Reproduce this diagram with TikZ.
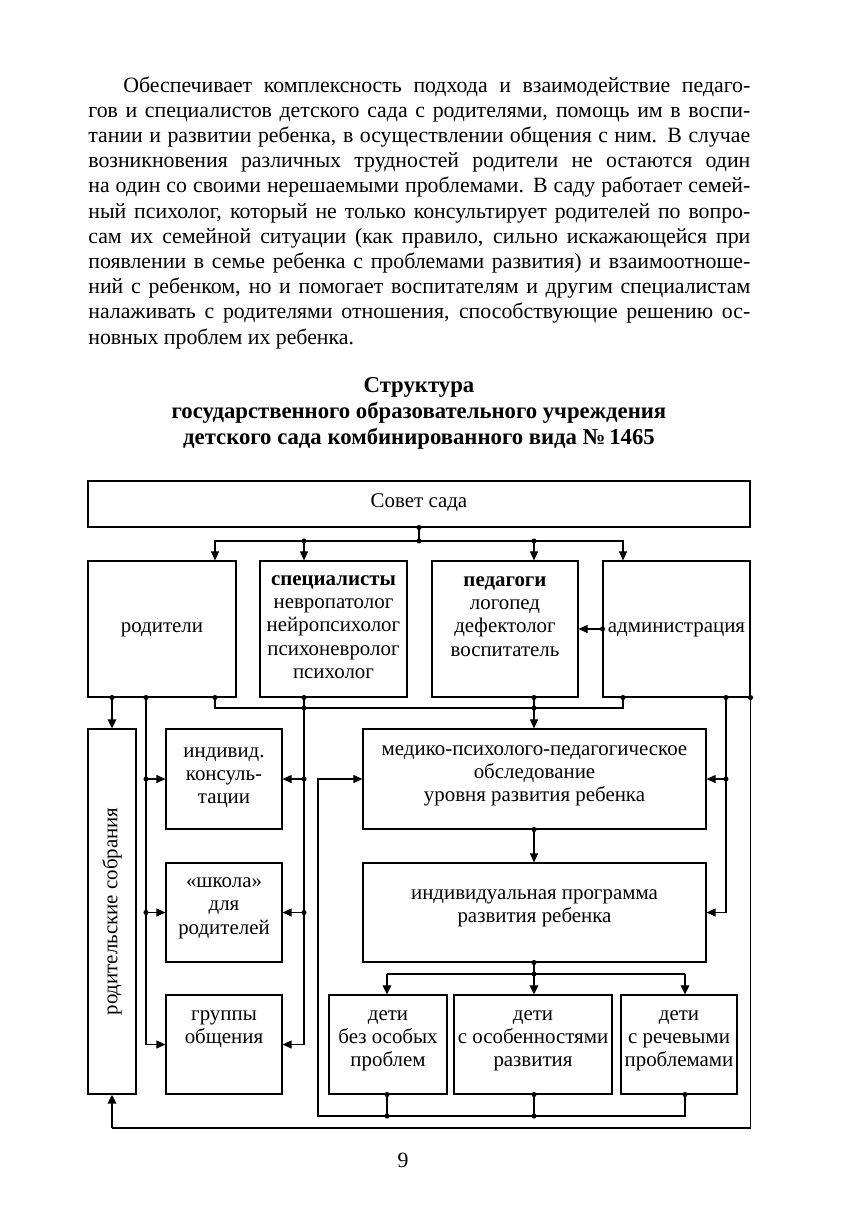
\documentclass[tikz,border=0pt]{standalone}
\usepackage{fontspec}
\setmainfont{Liberation Serif}
\usetikzlibrary{arrows.meta}
\newcommand{\bxt}[2]{\raisebox{#1}[0pt][0pt]{\begin{tabular}{@{}c@{}}#2\end{tabular}}}
\begin{document}
\begin{tikzpicture}[x=0.55pt,y=-0.55pt,
  every node/.style={font=\fontsize{11.5}{12.7}\selectfont},
  box/.style={draw, line width=0.6pt, inner sep=0pt},
  bx/.style 2 args={box, minimum width=#1*0.55pt, minimum height=#2*0.55pt},
  conn/.style={line width=0.6pt},
  arr/.style={line width=0.6pt,-{Triangle[length=5pt,width=4.4pt]}},
  tarr/.style={line width=1.3pt,-{Triangle[length=5pt,width=4.6pt]}},
  tk/.style={line width=1.3pt},
  jd/.style={fill=black}]
\useasboundingbox (0,0) rectangle (856,1211);
% body text
\node[anchor=base west, inner sep=0pt, font=\fontsize{12}{13.86}\selectfont] (body) at (88,92) {\vtop{\hsize=364.1pt\baselineskip=13.86pt\parindent=0pt
\hbox to\hsize{\hspace*{19.25pt}Обеспечивает комплексность подхода и взаимодействие педаго-}
\hbox to\hsize{гов и специалистов детского сада с родителями, помощь им в воспи-}
\hbox to\hsize{тании и развитии ребенка, в осуществлении общения с ним. В случае}
\hbox to\hsize{возникновения различных трудностей родители не остаются один}
\hbox to\hsize{на один со своими нерешаемыми проблемами. В саду работает семей-}
\hbox to\hsize{ный психолог, который не только консультирует родителей по вопро-}
\hbox to\hsize{сам их семейной ситуации (как правило, сильно искажающейся при}
\hbox to\hsize{появлении в семье ребенка с проблемами развития) и взаимоотноше-}
\hbox to\hsize{ний с ребенком, но и помогает воспитателям и другим специалистам}
\hbox to\hsize{налаживать с родителями отношения, способствующие решению ос-}
\hbox{новных проблем их ребенка.}}};
% title
\node[anchor=base, align=center, inner sep=0pt, font=\fontsize{12.5}{14.3}\selectfont\bfseries] (title) at (419,444) {Структура\\государственного образовательного учреждения\\детского сада комбинированного вида №\,1465};
% boxes
\node[bx={662}{46}] (sovet) at (419,504) {\bxt{-2.6pt}{Совет сада}};
\node[bx={148}{136}] (rod) at (162,629) {\bxt{-2.4pt}{родители}};
\node[bx={147}{136}] (spec) at (333.5,629) {\bxt{-2.1pt}{\textbf{специалисты}\\невропатолог\\нейропсихолог\\психоневролог\\психолог}};
\node[bx={146}{136}] (ped) at (505,629) {\bxt{3.7pt}{\textbf{педагоги}\\логопед\\дефектолог\\воспитатель}};
\node[bx={147}{136}] (adm) at (676.5,629) {\bxt{-2.4pt}{администрация}};
\node[box, rotate=90, minimum width=200.75pt, minimum height=26.4pt] (sobr) at (112,911.5) {родительские собрания};
\node[bx={116}{100}] (kons) at (224,779) {\bxt{-1.25pt}{индивид.\\консуль-\\тации}};
\node[bx={116}{99}] (shk) at (224,912.5) {\bxt{0.4pt}{«школа»\\для\\родителей}};
\node[bx={116}{99}] (grp) at (224,1044.5) {\bxt{6.2pt}{группы\\общения}};
\node[bx={343}{100}] (med) at (534.5,779) {\bxt{-0.15pt}{медико-психолого-педагогическое\\обследование\\уровня развития ребенка}};
\node[bx={343}{99}] (prog) at (534.5,912.5) {\bxt{0.4pt}{индивидуальная программа\\развития ребенка}};
\node[bx={118}{99}] (k1) at (388,1044.5) {\bxt{0.1pt}{дети\\без особых\\проблем}};
\node[bx={158}{99}] (k2) at (533,1044.5) {\bxt{0.1pt}{дети\\с особенностями\\развития}};
\node[bx={116}{99}] (k3) at (679,1044.5) {\bxt{0.1pt}{дети\\с речевыми\\проблемами}};
\node[font=\fontsize{12}{14}\selectfont] (page) at (403,1160) {9};
% guide coordinates
\coordinate (xA) at (215,0); \coordinate (xS) at (304,0); \coordinate (xP) at (534,0);
\coordinate (xM) at (623,0); \coordinate (xR1) at (112,0); \coordinate (xR2) at (146,0);
\coordinate (xL) at (318,0); \coordinate (xR3) at (726,0); \coordinate (xK1) at (387,0);
\coordinate (xK3) at (685,0);
\coordinate (yB1) at (0,541); \coordinate (yB2) at (0,708); \coordinate (yK) at (0,974);
\coordinate (yL) at (0,1116); \coordinate (yO) at (0,1128);
\coordinate (j0) at (sovet.south |- yB1);
% top bus
\draw[conn] (sovet.south) -- (j0);
\draw[arr] (j0) -| (rod.north -| xA);
\draw[arr] (j0) -| (adm.north -| xM);
\draw[arr] (xS |- yB1) -- (spec.north -| xS);
\draw[arr] (xP |- yB1) -- (ped.north -| xP);
\draw[arr] (adm.west) -- (ped.east);
% second bus
\draw[conn] (rod.south -| xA) |- (xM |- yB2) -- (adm.south -| xM);
\draw[arr] (spec.south -| xS) |- (grp.east);
\draw[arr] (xS |- kons.east) -- (kons.east);
\draw[arr] (xS |- shk.east) -- (shk.east);
\draw[arr] (ped.south -| xP) -- (med.north -| xP);
\draw[tarr] (rod.south -| xR1) -- (sobr.east);
\draw[arr] (rod.south -| xR2) |- (grp.west);
\draw[arr] (xR2 |- kons.west) -- (kons.west);
\draw[arr] (xR2 |- shk.west) -- (shk.west);
\draw[arr] (adm.south -| xR3) |- (prog.east);
\draw[arr] (xR3 |- med.east) -- (med.east);
\draw[conn] (adm.south east) |- (xR1 |- yO);
\draw[tarr] (xR1 |- yO) -- (sobr.west);
\draw[arr] (med.south -| xP) -- (prog.north -| xP);
% children
\draw[conn] (prog.south -| xP) -- (xP |- yK);
\draw[conn] (xK1 |- yK) -- (xK3 |- yK);
\draw[tarr] (xK1 |- yK) -- (k1.north -| xK1);
\draw[tarr] (xP |- yK) -- (k2.north -| xP);
\draw[tarr] (xK3 |- yK) -- (k3.north -| xK3);
\draw[conn] (k1.south -| xK1) -- (xK1 |- yL);
\draw[tk] (k2.south -| xP) -- (xP |- yL);
\draw[arr] (k3.south -| xK3) |- (xL |- yL) |- (med.west);
% junction dots
\foreach \p in {sovet.south, j0, {xS |- yB1}, {xP |- yB1}, adm.west,
  {rod.south -| xR1}, {rod.south -| xR2}, {rod.south -| xA},
  {spec.south -| xS}, {xS |- yB2}, {ped.south -| xP}, {xP |- yB2},
  {adm.south -| xM}, {adm.south -| xR3}, adm.south east,
  {xS |- kons.east}, {xS |- shk.east}, {xR2 |- kons.west}, {xR2 |- shk.west},
  {xR3 |- med.east}, {med.south -| xP}, {prog.south -| xP}, {xP |- yK},
  {k1.south -| xK1}, {k2.south -| xP}, {k3.south -| xK3}, {xK1 |- yL}, {xP |- yL}}
  \fill[jd] (\p) circle[radius=1.4pt];
\end{tikzpicture}
\end{document}
